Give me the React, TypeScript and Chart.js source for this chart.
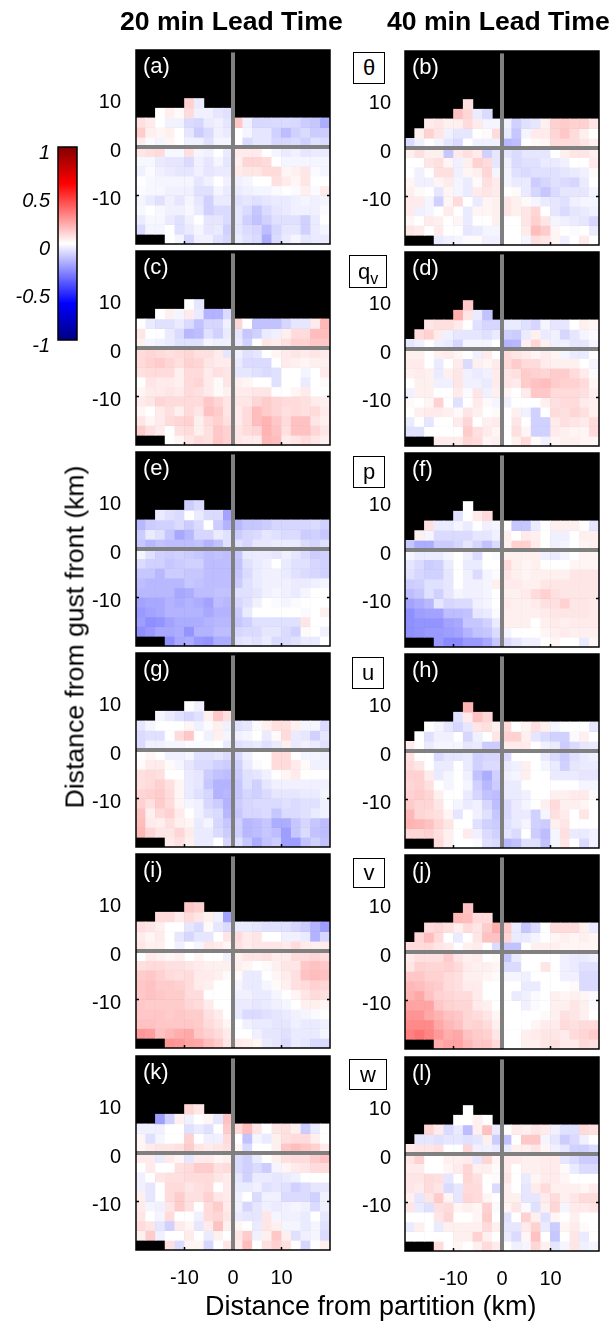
import React, { useEffect, useRef } from "react";
import { Chart, registerables } from "chart.js";

Chart.register(...registerables);

const FONT = '"Liberation Sans", Arial, sans-serif';
const _ = null;

// Cell values: percent of full colour saturation, rows from y=8..10 km down to y=-20..-18 km.
const panelA = [
  [_,_,_,_,_,18,-8,_,_,_,_,_,_,_,_,_,_,_,_,_],
  [_,_,0,6,2,14,-6,-6,-10,-12,_,_,_,_,_,_,_,_,_,_],
  [12,8,0,-5,-5,-14,-16,-8,-6,-10,22,-6,-15,-15,-14,-14,-15,-20,-22,-32],
  [20,6,4,6,0,-10,-20,-14,-6,-8,0,-4,-10,-10,-18,-26,-18,-14,-20,-20],
  [8,-2,-4,4,0,-6,-6,-12,-4,-4,0,-14,-10,-10,-16,-16,-14,-18,-12,-14],
  [10,12,14,-3,-3,12,-4,-6,0,-8,8,8,8,0,-4,-8,-6,-10,-8,-8],
  [-3,-3,-8,-10,-10,-14,-6,-10,-4,-10,6,16,16,14,0,-4,-4,-4,-4,-4],
  [-6,-2,-6,-8,-10,-10,-6,-10,-8,-8,8,10,10,14,14,4,6,10,-2,-4],
  [0,-3,-4,-4,-4,-4,-10,-6,0,-6,-6,-4,0,0,12,8,4,10,0,0],
  [-2,-3,-3,-6,-6,-6,-12,-12,-4,-8,-8,-6,-4,-4,-2,0,-2,6,-2,8],
  [-4,-8,-12,-6,-10,-4,-10,-18,-8,-8,-12,-10,-12,-10,-8,-8,-6,-4,-6,-4],
  [-3,0,-3,-6,-6,-3,-8,-18,-14,-14,-10,-14,-22,-14,-10,-8,-6,-6,-6,-2],
  [-8,-3,-3,-8,-12,-6,0,-10,-10,-14,-10,-18,-24,-18,-12,-12,-12,-18,-8,0],
  [-14,-4,-4,0,-12,-8,-4,-10,-8,-18,-10,-14,-16,-26,-16,-10,-10,-18,-8,-4],
  [_,_,_,0,-4,-16,-6,-6,-12,-16,-8,-12,-14,-32,-14,-8,-4,-10,-8,-8],
];
const panelB = [
  [_,_,_,_,_,_,12,_,_,_,_,_,_,_,_,_,_,_,_,_],
  [_,_,_,_,_,24,16,-8,-14,_,_,_,_,_,_,_,_,_,_,_],
  [_,_,8,10,6,6,14,8,-4,-4,-6,-18,-12,-10,6,18,20,18,18,10],
  [_,6,18,10,-6,-10,-10,0,2,14,-8,-22,-4,8,8,16,22,14,6,0],
  [-14,-6,0,-4,-10,-14,0,-6,-6,-6,-28,-26,0,2,4,14,14,14,10,6],
  [6,12,6,6,-22,8,12,8,-18,-10,-10,-14,-10,-10,-10,0,6,10,10,6],
  [0,0,10,12,4,-6,6,18,14,-10,-6,-14,-12,-12,-8,-8,-6,0,0,8],
  [0,-6,0,12,12,-6,4,6,16,-4,-4,-12,-14,-12,-12,-12,-10,-8,-6,2],
  [4,-6,-6,4,8,-4,-8,2,12,8,-4,-8,-8,-20,-16,-12,-14,-16,-8,0],
  [6,2,0,-10,4,-4,-8,8,10,8,0,2,-8,-16,-22,-14,-10,-10,-10,-4],
  [8,8,-4,-18,4,14,0,-8,4,6,10,6,2,-4,-8,-10,-12,-6,-4,-4],
  [8,-6,-4,0,8,0,-8,4,4,6,10,6,10,16,0,-10,-14,-10,-8,-6],
  [4,0,8,6,0,4,-8,0,0,6,0,0,10,18,10,-4,-6,-8,-10,-16],
  [10,8,0,8,0,0,-10,-8,-4,-4,0,0,8,26,20,4,0,-2,0,-8],
  [_,_,_,-8,-6,-4,-2,2,-6,-6,0,0,-4,12,10,4,-6,0,8,0],
];
const panelC = [
  [_,_,_,_,_,0,-10,_,_,_,_,_,_,_,_,_,_,_,_,_],
  [_,_,0,6,-4,8,-8,-30,-30,-14,_,_,_,_,_,_,_,_,_,_],
  [0,-8,-12,-12,-8,-14,-24,-16,-16,-6,16,0,-24,-24,-24,-16,-10,-10,8,28],
  [10,0,0,-8,-14,-28,-26,-12,-18,-8,-10,-22,-18,-8,-6,6,14,14,26,26],
  [6,-4,-6,-8,-12,-12,-12,-4,-6,-6,-8,-18,0,10,8,12,18,18,22,22],
  [14,16,14,12,14,16,12,12,8,-10,-6,-12,-10,0,4,8,10,8,10,8],
  [14,18,20,16,12,18,16,10,8,8,-8,-14,-14,-14,0,8,6,4,6,6],
  [12,14,14,14,6,14,14,8,12,10,-10,-10,-12,-14,-12,0,0,-4,0,8],
  [0,10,8,8,6,14,16,8,2,10,6,4,0,0,-12,0,0,-8,0,2],
  [4,8,8,10,8,14,12,8,2,6,8,8,10,10,0,0,4,8,0,0],
  [8,10,16,14,14,14,14,22,16,10,10,10,16,20,16,14,14,12,8,6],
  [4,0,8,12,6,14,10,24,20,10,8,14,26,20,16,12,14,12,14,8],
  [10,4,8,14,16,18,6,14,18,12,8,14,26,30,22,14,24,24,10,6],
  [20,12,8,0,12,14,6,12,22,18,10,14,16,30,24,12,24,24,16,10],
  [_,_,_,0,4,10,14,12,22,18,10,8,8,28,26,8,10,14,10,6],
];
const panelD = [
  [_,_,_,_,_,_,22,_,_,_,_,_,_,_,_,_,_,_,_,_],
  [_,_,_,_,_,32,10,-8,-24,_,_,_,_,_,_,_,_,_,_,_],
  [_,_,10,12,12,8,0,-12,-16,-16,-8,-8,-12,-16,-4,-10,-10,0,6,4],
  [_,14,18,8,-6,-10,-10,-10,-12,-8,-18,-20,-8,6,-8,-6,-16,-10,-4,-2],
  [-10,-6,0,-6,-8,-16,-4,-4,-4,0,-30,-28,6,16,6,-6,-6,-10,-10,-4],
  [6,6,0,6,8,4,0,-6,8,0,14,10,8,4,8,4,-4,-8,-8,0],
  [8,8,0,-8,0,8,-14,6,4,8,14,20,14,14,8,6,6,6,0,-4],
  [6,8,6,-8,6,10,-6,-8,-6,8,10,12,20,18,16,20,20,14,8,-2],
  [0,6,6,-6,-6,10,-6,-6,-8,8,10,8,20,24,26,20,18,18,14,4],
  [-6,6,6,0,0,8,-2,10,-6,6,4,0,8,22,22,14,14,14,12,6],
  [2,0,4,18,0,-12,0,8,2,-4,-6,0,0,0,6,12,14,14,8,6],
  [0,6,8,8,6,2,10,6,0,2,0,6,-6,-18,0,14,12,16,12,6],
  [-8,0,-10,0,0,8,16,0,6,8,0,10,0,-18,-18,8,12,10,8,14],
  [-12,-12,0,0,0,0,20,12,8,4,0,12,4,-18,-18,8,6,4,4,14],
  [_,_,_,8,8,8,16,14,4,6,0,6,14,2,-6,4,6,6,4,4],
];
const panelE = [
  [_,_,_,_,_,-20,-14,_,_,_,_,_,_,_,_,_,_,_,_,_],
  [_,_,-8,-12,-14,0,-8,-14,-14,-36,_,_,_,_,_,_,_,_,_,_],
  [-28,-20,-18,-18,-14,-20,-14,0,-20,-30,-28,-22,-22,-20,-16,-16,-16,-16,-14,-18],
  [-20,-8,-12,-22,-34,-28,-16,-16,-8,-12,-20,-16,-14,-10,-12,-14,-14,-20,-18,-22],
  [-22,-28,-24,-26,-26,-26,-24,-30,-24,-12,-12,-16,-10,-10,-8,-8,-8,-14,-16,-12],
  [-4,-12,-18,-20,-18,-20,-22,-26,-24,-26,-22,-8,-8,-8,-10,-6,-10,-14,-20,-18],
  [-14,-18,-18,-22,-20,-18,-18,-26,-26,-26,-24,-12,-8,-6,0,-8,-12,-12,-16,-18],
  [-22,-22,-28,-20,-20,-22,-22,-26,-26,-26,-22,-14,-8,-6,-6,-8,-12,-14,-16,-18],
  [-26,-28,-28,-28,-28,-22,-24,-26,-26,-26,-20,-12,-8,-6,-6,-6,-8,-8,-6,-4],
  [-28,-28,-28,-28,-34,-32,-26,-26,-24,-24,-12,-12,-10,-6,-4,-6,-8,-4,0,0],
  [-36,-34,-34,-30,-32,-30,-32,-36,-26,-28,-16,-12,-6,0,-2,-4,-2,0,0,0],
  [-40,-36,-34,-30,-30,-30,-30,-34,-30,-30,-20,-8,0,0,0,0,0,-2,0,6],
  [-38,-44,-42,-36,-32,-32,-32,-30,-28,-28,-22,-18,-12,-12,-12,-12,-12,10,0,0],
  [-44,-40,-34,-34,-32,-42,-30,-30,-26,-26,-16,-14,-14,-10,-10,-14,-18,2,0,-6],
  [_,_,_,-44,-34,-32,-40,-42,-32,-32,-12,-10,-12,-8,-14,-14,-12,-8,-8,0],
];
const panelF = [
  [_,_,_,_,_,_,0,_,_,_,_,_,_,_,_,_,_,_,_,_],
  [_,_,_,_,_,-12,0,8,14,_,_,_,_,_,_,_,_,_,_,_],
  [_,_,12,-8,-8,-4,-8,0,-6,-4,0,-22,-22,-8,0,6,6,6,0,-10],
  [_,6,-4,-14,-14,-14,-14,-10,-10,-6,6,0,8,6,0,-6,-6,0,6,6],
  [-22,-32,-32,-20,-20,-16,-10,-16,-24,-14,6,18,18,8,0,-6,-4,0,4,6],
  [-4,-8,-8,-8,-4,0,-6,-14,0,-2,6,6,6,6,-6,-8,-4,0,4,4],
  [-10,-14,-20,-18,-8,0,-8,-8,0,0,14,6,4,6,0,0,0,4,4,4],
  [-12,-16,-18,-18,-10,0,-6,-14,-4,-2,10,6,4,6,6,6,6,10,10,10],
  [-20,-18,-12,-12,-10,0,-6,-6,-4,6,8,8,6,6,10,10,10,10,10,10],
  [-26,-22,-12,-18,-10,-4,-6,-6,-4,0,6,6,8,14,18,12,10,10,10,10],
  [-36,-32,-28,-10,-16,-14,-14,-6,-4,0,8,6,6,8,12,12,18,10,10,8],
  [-44,-38,-36,-36,-26,-26,-24,-10,-8,-2,6,6,6,6,8,10,10,10,10,8],
  [-44,-42,-42,-42,-36,-34,-22,-22,-18,-8,6,6,6,0,6,8,6,8,8,8],
  [-44,-42,-40,-40,-38,-36,-30,-24,-22,-14,-4,0,0,0,4,6,8,6,6,6],
  [_,_,_,-40,-46,-46,-40,-40,-34,-22,-14,-10,-6,-6,0,4,0,0,-8,4],
];
const panelG = [
  [_,_,_,_,_,0,-6,_,_,_,_,_,_,_,_,_,_,_,_,_],
  [_,_,-4,-8,-12,-16,-12,6,22,12,_,_,_,_,_,_,_,_,_,_],
  [-10,-4,0,0,0,4,-6,-2,6,-6,-12,-10,-2,6,12,12,6,-4,-4,-14],
  [-14,-12,-12,0,14,22,0,-6,6,-4,-6,-4,0,-8,2,14,-8,-10,-18,-10],
  [-14,-6,-6,-4,-4,-2,-2,-2,0,-8,-12,-10,-8,-12,-8,6,-8,-6,-8,-12],
  [0,4,0,-6,-6,-4,-12,-12,-10,-14,-14,-6,0,0,14,14,0,-4,-4,-6],
  [2,8,8,2,-4,-10,-14,-14,-18,-20,-18,-8,-2,0,14,14,8,2,-6,-6],
  [12,14,12,0,0,-8,-10,-20,-24,-26,-20,-12,-10,-6,0,4,8,0,0,0],
  [12,14,18,12,4,-8,-10,-22,-30,-30,-22,-12,-18,-10,-6,-6,-6,-6,-6,-6],
  [16,18,20,14,4,-8,-12,-16,-30,-28,-22,-16,-18,-14,-10,-10,-10,-8,-8,-4],
  [18,12,20,14,4,-4,-6,-16,-20,-30,-20,-16,-14,-14,-14,-12,-14,-12,-12,-6],
  [24,6,14,18,8,0,-6,-12,-14,-28,-22,-16,-16,-14,-22,-14,-14,-12,-8,-6],
  [26,8,6,12,6,4,-8,-4,-16,-22,-18,-28,-26,-22,-32,-32,-22,-16,-22,-26],
  [28,16,10,10,16,8,-8,-8,-14,-20,-18,-28,-26,-22,-26,-38,-22,-14,-24,-26],
  [_,_,_,8,12,6,-8,-8,0,-16,-12,-22,-32,-24,-20,-38,-38,-24,-18,-24],
];
const panelH = [
  [_,_,_,_,_,_,30,_,_,_,_,_,_,_,_,_,_,_,_,_],
  [_,_,_,_,_,-12,8,24,16,_,_,_,_,_,_,_,_,_,_,_],
  [_,_,0,-4,-10,-16,-10,10,12,6,14,0,4,12,6,-4,0,0,0,-10],
  [_,0,-12,-6,-6,0,-16,-6,0,10,18,18,6,-10,-14,-18,-18,-2,6,0],
  [8,0,-8,-4,-4,-4,-10,-8,-20,-20,8,8,8,0,-6,-8,-20,-14,-10,-8],
  [12,0,0,-14,-10,-10,-8,-18,-16,-16,-14,0,0,0,-8,-14,-20,-12,-8,-6],
  [14,10,0,-8,-8,0,-8,-18,-14,-14,-8,-6,6,0,-4,-8,-18,-10,-8,-8],
  [18,18,8,-8,-4,0,-6,-24,-32,-18,-6,-4,6,0,0,-8,-8,-8,-10,-10],
  [16,18,12,0,-4,0,-4,-18,-28,-20,-8,-8,0,0,0,0,0,0,-4,-4],
  [18,20,16,6,0,0,-8,-16,-24,-26,-8,-8,-6,0,0,6,6,8,8,2],
  [20,16,16,10,0,-4,-8,-6,-16,-26,-14,-8,-4,0,6,14,6,6,4,0],
  [28,16,14,12,4,-10,0,-6,-12,-22,-14,-8,-8,-18,-4,12,8,0,10,0],
  [30,28,24,16,10,0,0,-12,-18,-20,-12,-8,-4,-18,-20,6,10,0,0,0],
  [16,16,18,12,6,0,8,-6,-14,-18,-10,-14,0,-20,-26,-4,12,-8,-8,-6],
  [_,_,_,14,6,0,0,-2,-12,-14,-28,-24,-12,-12,-24,-4,10,0,-14,-6],
];
const panelI = [
  [_,_,_,_,_,22,18,_,_,_,_,_,_,_,_,_,_,_,_,_],
  [_,_,14,14,8,14,10,6,-6,-36,_,_,_,_,_,_,_,_,_,_],
  [12,10,6,0,0,-10,-14,2,-10,-14,-8,-8,-10,-12,-12,-12,-16,-20,-30,-38],
  [8,4,8,0,-10,-16,-10,-10,0,10,14,8,10,0,0,-6,-6,-8,-30,-16],
  [10,6,6,0,-6,0,-4,10,8,4,12,8,10,10,10,8,14,8,6,8],
  [0,8,6,4,6,0,4,0,0,-6,6,10,10,12,8,8,14,14,16,14],
  [12,14,14,12,12,10,8,6,6,6,6,4,0,2,6,10,10,22,24,22],
  [20,22,18,14,12,14,8,8,6,2,2,-8,-8,0,4,8,12,24,26,24],
  [22,24,20,20,18,14,8,6,0,0,-4,-8,-8,-4,2,6,12,14,18,16],
  [22,24,22,20,20,14,14,0,0,0,-6,-6,-8,-8,-4,0,4,10,14,12],
  [22,20,20,20,20,16,14,8,0,0,-8,-8,-10,-8,-6,-4,0,6,6,4],
  [22,22,22,20,22,20,20,12,8,0,-8,-14,-14,-12,-10,-8,-6,-4,-2,0],
  [24,24,22,22,22,22,20,14,10,4,0,-6,-8,-8,-10,-10,-6,-8,-8,-6],
  [40,38,24,28,32,34,22,18,14,8,0,0,-6,-10,-10,-12,-8,-8,-8,-4],
  [_,_,_,42,40,36,34,26,20,10,8,6,4,-8,-10,-14,-8,-10,-14,-14],
];
const panelJ = [
  [_,_,_,_,_,_,24,_,_,_,_,_,_,_,_,_,_,_,_,_],
  [_,_,_,_,_,28,26,14,14,_,_,_,_,_,_,_,_,_,_,_],
  [_,_,14,16,12,6,14,10,20,32,20,-8,-22,-14,0,14,14,14,6,-8],
  [_,16,26,14,0,-8,0,10,24,24,16,-8,-8,-4,0,4,6,4,6,4],
  [14,14,14,10,8,0,6,8,0,-14,-24,-24,0,6,6,6,4,4,4,4],
  [8,12,12,12,20,10,6,8,0,2,-22,-8,0,0,0,0,-6,-8,-8,-6],
  [10,18,16,16,18,14,8,6,6,4,-14,-14,0,0,10,0,-6,-8,-12,-12],
  [22,22,18,18,14,12,6,6,4,2,-4,-4,-6,0,0,0,-6,-6,-14,-14],
  [28,26,22,20,14,12,8,8,0,0,0,0,-8,-8,0,0,0,2,-14,-14],
  [30,34,24,18,16,14,14,8,0,0,0,-8,-6,-2,0,6,4,6,4,-2],
  [36,36,36,22,18,16,16,8,6,0,0,0,-6,-2,0,6,6,10,6,-2],
  [42,42,34,30,24,22,16,14,10,4,0,0,0,0,2,6,12,10,6,0],
  [46,46,46,34,28,24,16,18,14,6,0,0,0,4,8,8,14,12,14,14],
  [50,54,48,40,32,34,24,20,18,10,0,0,6,8,10,10,8,14,16,20],
  [_,_,_,32,36,36,28,22,22,14,0,0,6,6,10,12,8,8,14,12],
];
const panelK = [
  [_,_,_,_,_,16,10,_,_,_,_,_,_,_,_,_,_,_,_,_],
  [_,_,-38,-18,6,-6,0,4,-10,24,_,_,_,_,_,_,_,_,_,_],
  [-6,-6,-6,0,0,-12,-8,-12,0,20,14,26,10,0,10,12,6,-20,-8,0],
  [4,-12,-4,0,0,18,0,-6,-6,14,0,-24,-4,-8,6,12,14,14,6,0],
  [4,8,10,10,12,20,10,8,10,12,4,-14,0,0,6,22,26,22,18,8],
  [8,8,-8,8,4,-10,8,8,4,6,-14,-18,-8,0,6,12,14,14,20,24],
  [0,8,0,0,12,14,20,20,12,14,-14,-18,-14,-20,-4,4,8,10,14,14],
  [-6,0,10,12,12,14,14,14,10,8,-10,-18,-8,-8,-10,-8,-6,0,0,0],
  [-6,-10,0,14,14,10,12,14,0,8,-8,-8,-6,-12,-10,-12,-18,-14,-10,-10],
  [6,-10,0,14,20,12,12,18,10,8,-6,0,-14,-6,-6,-14,-14,-14,-18,-6],
  [8,-4,-6,10,20,12,0,14,20,8,-6,-16,-10,-6,-8,-6,-4,-6,-14,-6],
  [10,0,-4,14,0,0,-6,14,16,10,-8,-10,-10,10,-4,-6,-6,-8,0,-10],
  [14,10,-10,-18,8,4,-10,8,24,6,4,0,-8,10,6,-4,-4,-8,-4,-12],
  [6,20,-6,0,0,8,0,-8,6,0,10,20,-6,6,22,6,-12,-6,-4,-14],
  [_,_,_,12,-14,4,4,-16,0,10,8,26,0,12,18,12,0,-16,0,6],
];
const panelL = [
  [_,_,_,_,_,_,0,_,_,_,_,_,_,_,_,_,_,_,_,_],
  [_,_,_,_,_,0,0,6,0,_,_,_,_,_,_,_,_,_,_,_],
  [_,_,16,8,-14,-8,-26,6,24,-8,0,8,6,10,8,-6,-12,-12,14,12],
  [_,-10,-10,-12,-10,-10,-12,-10,6,-20,-24,0,22,22,-4,-10,-20,-14,-6,0],
  [8,10,10,12,0,0,16,-6,-6,-8,-8,6,6,10,4,-6,-10,-18,-18,-14],
  [10,18,0,0,6,6,8,-10,16,4,8,8,6,6,8,8,-10,-14,-20,-20],
  [8,8,0,0,4,8,16,6,6,2,8,0,6,6,8,8,2,-8,-14,-14],
  [10,10,14,12,-10,0,16,12,0,2,10,0,-8,4,8,8,4,0,0,0],
  [10,8,14,10,-14,-10,14,14,0,-14,6,0,-10,8,14,6,6,6,4,8],
  [6,-10,10,20,4,-10,16,14,4,0,6,6,-10,-10,8,14,6,10,14,14],
  [10,-8,-12,12,14,4,6,4,18,-2,4,10,-2,-12,6,16,-4,8,8,10],
  [0,0,0,10,16,0,0,4,20,0,-12,0,18,6,-12,4,0,6,0,0],
  [-8,6,0,-8,6,6,6,6,14,6,-10,-10,8,18,-8,-20,4,8,2,0],
  [0,0,0,0,0,6,6,18,6,0,-8,-14,4,24,0,-22,0,10,-8,0],
  [_,_,_,14,0,4,0,6,14,8,0,-6,-4,16,6,-10,-4,10,-6,-4],
];

const PANELS = [panelA, panelB, panelC, panelD, panelE, panelF, panelG, panelH, panelI, panelJ, panelK, panelL];
const LETTERS = ["(a)", "(b)", "(c)", "(d)", "(e)", "(f)", "(g)", "(h)", "(i)", "(j)", "(k)", "(l)"];
const X_CENTERS = [-19, -17, -15, -13, -11, -9, -7, -5, -3, -1, 1, 3, 5, 7, 9, 11, 13, 15, 17, 19];
const ROW_BOTTOMS = [8, 6, 4, 2, 0, -2, -4, -6, -8, -10, -12, -14, -16, -18, -20];
const AXIS_TICKS = [-10, 0, 10];
const BAR_TICKS = [-1, -0.5, 0, 0.5, 1];
const BAR_STOPS = [-1, -0.62, 0, 0.62, 1];
const BAR_COLORS = ["#000082", "#0000ff", "#ffffff", "#ff0000", "#820000"];

const PANEL_TOPS = [50, 251, 452, 653, 854, 1056];
const PANEL_LEFTS = [136, 405];
const COLUMN_TOP_SHIFT = [0, 1];
const TICK_PADDING = [7, 6];
const PANEL_SIZE = 194;
const AXIS_W = 60;
const BOTTOM_H = 44;

function cellColor(p: number) {
  const t = Math.max(0, 1 - Math.abs(p) / 100);
  const c = Math.round(255 * t);
  return p >= 0 ? `rgb(255,${c},${c})` : `rgb(${c},${c},255)`;
}

function noAxisPadding(s: any) {
  s.paddingTop = 0;
  s.paddingBottom = 0;
  s.paddingLeft = 0;
  s.paddingRight = 0;
}

const frame = {
  id: "frame",
  beforeDatasetsDraw(chart: any) {
    const a = chart.chartArea;
    chart.ctx.save();
    chart.ctx.fillStyle = "#000";
    chart.ctx.fillRect(a.left, a.top, a.width, a.height);
    chart.ctx.restore();
  },
  afterDraw(chart: any) {
    const a = chart.chartArea;
    const ctx = chart.ctx;
    ctx.save();
    ctx.strokeStyle = "#000";
    ctx.lineWidth = 1.5;
    ctx.strokeRect(a.left, a.top, a.width, a.height);
    ctx.beginPath();
    AXIS_TICKS.filter((t) => t !== 0).forEach((t) => {
      const x = chart.scales.x.getPixelForValue(t);
      ctx.moveTo(x, a.bottom);
      ctx.lineTo(x, a.bottom - 3);
      const y = chart.scales.y.getPixelForValue(t);
      ctx.moveTo(a.left, y);
      ctx.lineTo(a.left + 3, y);
      ctx.moveTo(a.right, y);
      ctx.lineTo(a.right - 3, y);
    });
    ctx.stroke();
    ctx.restore();
  },
};

function Panel({ index }: { index: number }) {
  const ref = useRef<HTMLCanvasElement>(null);
  const rowIdx = Math.floor(index / 2);
  const bottom = rowIdx === 5;
  useEffect(() => {
    const rows = PANELS[index];
    const datasets: any[] = rows.map((row, r) => {
      const low = ROW_BOTTOMS[r];
      const cells = row
        .map((v, c) => ({ v, c }))
        .filter((d) => d.v !== null) as { v: number; c: number }[];
      return {
        type: "bar",
        order: 2,
        grouped: false,
        barPercentage: 1,
        categoryPercentage: 1,
        borderWidth: 0,
        data: cells.map((d) => ({ x: X_CENTERS[d.c], y: [low, low + 2] })),
        backgroundColor: cells.map((d) => cellColor(d.v)),
      };
    });
    const lineProps = { type: "line", order: 1, borderColor: "#808080", borderWidth: 4, pointRadius: 0, borderCapStyle: "butt", tension: 0 };
    datasets.push({ ...lineProps, data: [{ x: -20, y: 0 }, { x: 20, y: 0 }] });
    datasets.push({ ...lineProps, data: [{ x: 0, y: -20 }, { x: 0, y: 19.5 }] });
    const chart = new Chart(ref.current!, {
      type: "bar",
      data: { datasets },
      plugins: [frame],
      options: {
        animation: false,
        responsive: false,
        layout: { padding: { left: 0, right: 2, top: 2, bottom: 2 } },
        plugins: { legend: { display: false }, tooltip: { enabled: false } },
        scales: {
          x: {
            type: "linear",
            min: -20,
            max: 20,
            offset: false,
            grid: { display: false },
            border: { display: false },
            afterBuildTicks: (s: any) => { s.ticks = AXIS_TICKS.map((value) => ({ value })); },
            afterFit: (s: any) => { noAxisPadding(s); s.height = bottom ? BOTTOM_H : 0; },
            ticks: {
              display: bottom,
              padding: 8,
              maxRotation: 0,
              autoSkip: false,
              color: "#000",
              font: { family: FONT, size: 20 },
              callback: (v: any) => String(v),
            },
          },
          y: {
            type: "linear",
            min: -20,
            max: 20,
            grid: { display: false },
            border: { display: false },
            afterBuildTicks: (s: any) => { s.ticks = AXIS_TICKS.map((value) => ({ value })); },
            afterFit: (s: any) => { noAxisPadding(s); s.width = AXIS_W; },
            ticks: {
              padding: TICK_PADDING[index % 2],
              labelOffset: 4,
              autoSkip: false,
              color: "#000",
              font: { family: FONT, size: 20 },
              callback: (v: any) => String(v),
            },
          },
        },
      } as any,
    } as any);
    return () => chart.destroy();
  }, [index, bottom]);
  const left = PANEL_LEFTS[index % 2] - AXIS_W;
  const top = PANEL_TOPS[rowIdx] - 2 + COLUMN_TOP_SHIFT[index % 2];
  return (
    <canvas
      ref={ref}
      width={AXIS_W + PANEL_SIZE + 2}
      height={PANEL_SIZE + 2 + (bottom ? BOTTOM_H + 2 : 2)}
      style={{ position: "absolute", left, top }}
    />
  );
}

function ColorBar() {
  const ref = useRef<HTMLCanvasElement>(null);
  useEffect(() => {
    const chart = new Chart(ref.current!, {
      type: "bar",
      data: {
        labels: ["scale"],
        datasets: [
          {
            data: [[-1, 1]],
            barPercentage: 1,
            categoryPercentage: 1,
            backgroundColor: (c: any) => {
              const area = c.chart.chartArea;
              if (!area) return "#fff";
              const g = c.chart.ctx.createLinearGradient(0, area.bottom, 0, area.top);
              BAR_STOPS.forEach((s, i) => g.addColorStop((s + 1) / 2, BAR_COLORS[i]));
              return g;
            },
          },
        ],
      },
      plugins: [
        {
          id: "barFrame",
          afterDraw(ch: any) {
            const a = ch.chartArea;
            ch.ctx.save();
            ch.ctx.strokeStyle = "#000";
            ch.ctx.lineWidth = 1.5;
            ch.ctx.strokeRect(a.left, a.top, a.width, a.height);
            ch.ctx.restore();
          },
        },
      ],
      options: {
        animation: false,
        responsive: false,
        layout: { padding: { left: 0, right: 2, top: 3, bottom: 14 } },
        plugins: { legend: { display: false }, tooltip: { enabled: false } },
        scales: {
          x: { display: false },
          y: {
            min: -1,
            max: 1,
            grid: { display: false },
            border: { display: false },
            afterBuildTicks: (s: any) => { s.ticks = BAR_TICKS.map((value) => ({ value })); },
            afterFit: (s: any) => { noAxisPadding(s); s.width = 58; },
            ticks: {
              padding: 0,
              labelOffset: 6,
              autoSkip: false,
              color: "#000",
              font: { family: FONT, size: 20, style: "italic" },
              callback: (v: any) => String(v),
            },
          },
        },
      } as any,
    } as any);
    return () => chart.destroy();
  }, []);
  return <canvas ref={ref} width={79} height={210} style={{ position: "absolute", left: 0, top: 144 }} />;
}

const BOXES: { label: React.ReactNode; x: number; y: number; w: number; h: number }[] = [
  { label: "θ", x: 353, y: 52, w: 32, h: 32 },
  { label: <>q<sub style={{ fontSize: 16, lineHeight: 0 }}>v</sub></>, x: 349, y: 255, w: 38, h: 33 },
  { label: "p", x: 353, y: 456, w: 32, h: 32 },
  { label: "u", x: 352, y: 657, w: 32, h: 32 },
  { label: "v", x: 353, y: 858, w: 32, h: 30 },
  { label: "w", x: 349, y: 1059, w: 38, h: 31 },
];

function Text({ x, y, size, bold, color, children }: any) {
  return (
    <div
      style={{
        position: "absolute",
        left: x,
        top: y,
        font: `${bold ? "bold " : ""}${size}px ${FONT}`,
        lineHeight: `${size}px`,
        color: color || "#000",
        whiteSpace: "nowrap",
      }}
    >
      {children}
    </div>
  );
}

export default function App() {
  return (
    <div style={{ position: "absolute", left: 0, top: 0, width: 610, height: 1322, overflow: "hidden", background: "#fff" }}>
      <ColorBar />
      {PANELS.map((_p, i) => (
        <Panel key={i} index={i} />
      ))}
      {LETTERS.map((l, i) => (
        <Text key={l} x={PANEL_LEFTS[i % 2] + 7} y={PANEL_TOPS[Math.floor(i / 2)] + 5 + COLUMN_TOP_SHIFT[i % 2]} size={22} color="#fff">
          {l}
        </Text>
      ))}
      {BOXES.map((b, i) => (
        <div
          key={i}
          style={{
            position: "absolute",
            left: b.x,
            top: b.y,
            width: b.w,
            height: b.h,
            boxSizing: "border-box",
            border: "1.5px solid #000",
            background: "#fff",
            font: `22px ${FONT}`,
            display: "flex",
            alignItems: "center",
            justifyContent: "center",
          }}
        >
          <span>{b.label}</span>
        </div>
      ))}
      <Text x={120} y={8} size={26.6} bold>20 min Lead Time</Text>
      <Text x={387} y={8} size={26.6} bold>40 min Lead Time</Text>
      <Text x={205} y={1293} size={27}>Distance from partition (km)</Text>
      <div
        style={{
          position: "absolute",
          left: 75,
          top: 637,
          font: `26.6px ${FONT}`,
          lineHeight: "27px",
          whiteSpace: "nowrap",
          transform: "translate(-50%,-50%) rotate(-90deg)",
        }}
      >
        Distance from gust front (km)
      </div>
    </div>
  );
}
